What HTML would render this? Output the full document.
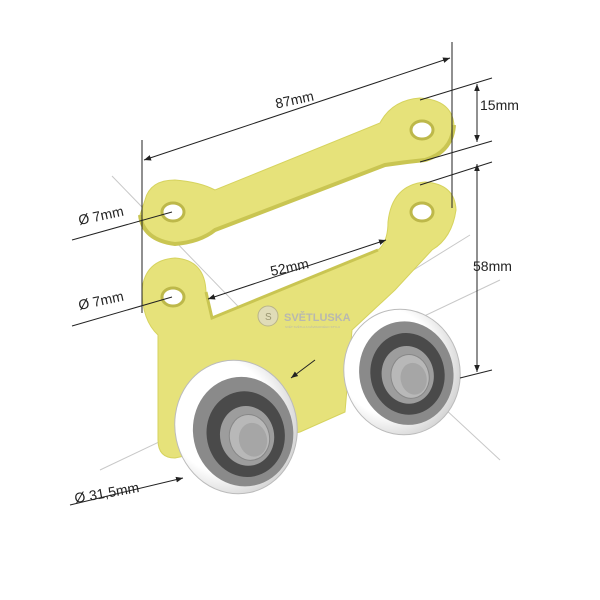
<!DOCTYPE html>
<html><head><style>html,body{margin:0;padding:0;background:#fff}svg{display:block}</style></head>
<body>
<svg width="600" height="600" viewBox="0 0 600 600" xmlns="http://www.w3.org/2000/svg" font-family="Liberation Sans, sans-serif">
<defs>
<marker id="a" viewBox="0 0 10 10" refX="10" refY="5" markerWidth="7" markerHeight="7" orient="auto-start-reverse"><path d="M0,1 L10,5 L0,9 Z" fill="#222"/></marker>
<radialGradient id="wh" cx="0.4" cy="0.4" r="0.7"><stop offset="0.6" stop-color="#fff"/><stop offset="1" stop-color="#c8c8c8"/></radialGradient>
</defs>
<g stroke="#c8c8c8" stroke-width="1">
<line x1="112" y1="176" x2="290" y2="360"/>
<line x1="500" y1="280" x2="100" y2="470"/>
<line x1="360" y1="330" x2="500" y2="460"/>
<line x1="470" y1="235" x2="365" y2="300"/>
</g>
<!-- top link -->
<path d="M145,200 Q150,180 175,180 Q200,182 215,190 L380,123 Q392,100 420,98 Q452,100 454,125 Q452,152 425,160 Q405,162 385,165 L215,230 Q200,242 175,244 Q143,240 140,215 Z" fill="#e6e27a" stroke="#d6d35e"/>
<path d="M140,215 Q143,240 175,244 Q200,242 215,230 L385,165 Q405,162 425,160 Q452,152 454,125" fill="none" stroke="#c9c552" stroke-width="4"/>
<ellipse cx="173" cy="212" rx="11" ry="9" fill="#fff" stroke="#bdb84a" stroke-width="3"/>
<ellipse cx="422" cy="130" rx="11" ry="9" fill="#fff" stroke="#bdb84a" stroke-width="3"/>
<!-- bottom plate -->
<path d="M142,290 Q145,260 175,258 Q205,260 206,292 L212,318 L378,250 Q388,242 388,222 Q392,185 425,182 Q455,184 456,210 Q452,238 432,250 L395,290 L352,330 L345,412 L300,432 L175,458 Q158,458 158,440 L158,335 Q142,320 142,290 Z" fill="#e6e27a" stroke="#d6d35e"/>
<path d="M206,292 L212,318 L378,250" fill="none" stroke="#c9c552" stroke-width="3"/>
<ellipse cx="173" cy="297" rx="11" ry="9" fill="#fff" stroke="#bdb84a" stroke-width="3"/>
<ellipse cx="422" cy="212" rx="11" ry="9" fill="#fff" stroke="#bdb84a" stroke-width="3"/>
<circle cx="268" cy="316" r="10" fill="#e0dcb8" stroke="#b9b48a"/>
<text x="265" y="320" font-size="10" fill="#9a9670">S</text>
<text x="284" y="321" font-size="11" font-weight="bold" fill="#b8b8b0">SVĚTLUSKA</text>
<text x="285" y="328" font-size="3" fill="#b8b8b0">SVĚT SVĚTLA A NÁVRHOVÉHO STYLU</text>
<g transform="rotate(-12 402 372)">
<ellipse cx="402" cy="372" rx="58" ry="63" fill="url(#wh)" stroke="#bbb"/>
<ellipse cx="406" cy="374" rx="47" ry="52" fill="#8a8a8a"/>
<ellipse cx="407" cy="375" rx="37" ry="41" fill="#4a4a4a"/>
<ellipse cx="407" cy="376" rx="26" ry="29" fill="#9d9d9d"/>
<ellipse cx="409" cy="378" rx="19" ry="22" fill="#b8b8b8" stroke="#888"/>
<ellipse cx="412" cy="381" rx="13" ry="16" fill="#a6a6a6"/>
</g>
<g transform="rotate(-12 236 427)">
<ellipse cx="236" cy="427" rx="61" ry="67" fill="url(#wh)" stroke="#bbb"/>
<ellipse cx="242" cy="433" rx="50" ry="55" fill="#8a8a8a"/>
<ellipse cx="244" cy="436" rx="39" ry="43" fill="#4a4a4a"/>
<ellipse cx="245" cy="438" rx="27" ry="30" fill="#9d9d9d"/>
<ellipse cx="247" cy="440" rx="20" ry="23" fill="#b8b8b8" stroke="#888"/>
<ellipse cx="250" cy="443" rx="14" ry="17" fill="#a6a6a6"/>
</g>
<g stroke="#222" stroke-width="1" fill="none">
<line x1="142" y1="140" x2="142" y2="313"/>
<line x1="452" y1="42" x2="452" y2="208"/>
<line x1="144" y1="160" x2="450" y2="58" marker-start="url(#a)" marker-end="url(#a)"/>
<line x1="420" y1="100" x2="492" y2="78"/>
<line x1="420" y1="162" x2="492" y2="141"/>
<line x1="420" y1="185" x2="492" y2="162"/>
<line x1="460" y1="378" x2="492" y2="370"/>
<line x1="477" y1="84" x2="477" y2="142" marker-start="url(#a)" marker-end="url(#a)"/>
<line x1="477" y1="164" x2="477" y2="372" marker-start="url(#a)" marker-end="url(#a)"/>
<line x1="208" y1="299" x2="386" y2="240" marker-start="url(#a)" marker-end="url(#a)"/>
<line x1="72" y1="240" x2="172" y2="212"/>
<line x1="72" y1="326" x2="172" y2="297"/>
<line x1="315" y1="360" x2="291" y2="378" marker-end="url(#a)"/>
<line x1="70" y1="505" x2="183" y2="478" marker-end="url(#a)"/>
</g>
<g font-size="14" fill="#222">
<text x="275" y="104" transform="rotate(-12 297 99)">87mm</text>
<text x="480" y="110">15mm</text>
<text x="473" y="271">58mm</text>
<text x="270" y="272" transform="rotate(-12 290 267)">52mm</text>
<text x="78" y="221" transform="rotate(-12 98 216)">Ø 7mm</text>
<text x="78" y="306" transform="rotate(-12 98 301)">Ø 7mm</text>
<text x="74" y="497" transform="rotate(-10 110 492)">Ø 31,5mm</text>
</g>
</svg>
</body></html>
